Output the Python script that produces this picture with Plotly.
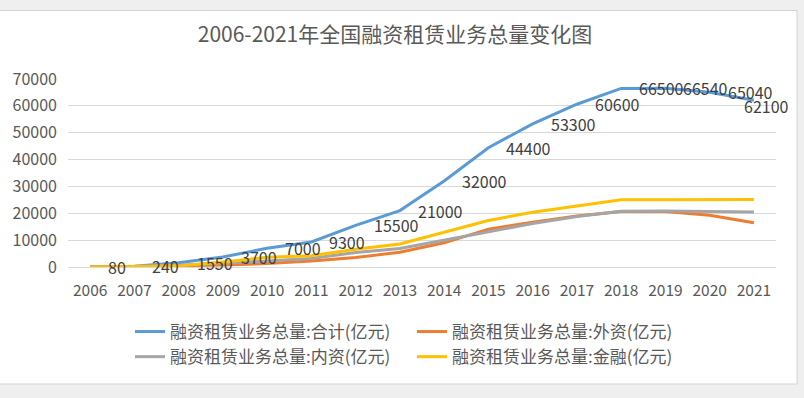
import plotly.graph_objects as go

# ---- data ----
years = list(range(2006, 2022))
total = [80, 240, 1550, 3700, 7000, 9300, 15500, 21000, 32000, 44400,
         53300, 60600, 66500, 66540, 65040, 62100]
foreign = [30, 50, 500, 700, 1300, 2200, 3500, 5500, 9000, 14100,
           16700, 19000, 20700, 20700, 19290, 16510]
domestic = [40, 100, 630, 1300, 2200, 3200, 5400, 6900, 10000, 13000,
            16200, 18800, 20800, 20810, 20710, 20500]
financial = [10, 90, 420, 1900, 3600, 4200, 6600, 8600, 13000, 17300,
             20400, 22800, 25000, 25030, 25040, 25090]
series_names = ["融资租赁业务总量:合计(亿元)", "融资租赁业务总量:外资(亿元)",
                "融资租赁业务总量:内资(亿元)", "融资租赁业务总量:金融(亿元)"]
series_values = [total, foreign, domestic, financial]
series_colors = ["#5B9BD5", "#ED7D31", "#A5A5A5", "#FFC000"]
title_text = "2006-2021年全国融资租赁业务总量变化图"
y_ticks = [0, 10000, 20000, 30000, 40000, 50000, 60000, 70000]

FONT = "Noto Sans CJK SC"
W, H = 804, 398
ML, MR, MT, MB = 68, 28, 79, 131
PW, PH = W - ML - MR, H - MT - MB

fig = go.Figure()
for name, vals, col in zip(series_names, series_values, series_colors):
    fig.add_trace(go.Scatter(x=years, y=vals, name=name, mode="lines",
                             line=dict(color=col, width=3)))

# data labels on total series
for i, (yr, v) in enumerate(zip(years, total)):
    last = i == len(years) - 1
    fig.add_annotation(x=yr, y=v, text=str(v), showarrow=False,
                       xanchor="left", yanchor="middle",
                       xshift=-12 if last else 16, yshift=-6 if last else 0,
                       font=dict(family=FONT, size=16, color="#404040"))

def px_x(p):
    return (p - ML) / PW

def px_y(p):
    return (H - MB - p) / PH

# chart area (white) on grey background
fig.add_shape(type="rect", xref="paper", yref="paper",
              x0=px_x(-2), x1=px_x(797), y0=px_y(384), y1=px_y(10.5),
              fillcolor="white", line=dict(color="#d4d4d4", width=1),
              layer="below")

fig.update_layout(
    width=W, height=H,
    margin=dict(l=ML, r=MR, t=MT, b=MB),
    paper_bgcolor="#efefef", plot_bgcolor="white",
    title=dict(text=title_text, x=395 / W, xanchor="center", xref="container",
               y=1 - 35 / H, yanchor="middle", yref="container",
               font=dict(family=FONT, size=21, color="#595959")),
    showlegend=True,
    legend=dict(orientation="h", xref="container", yref="container",
                x=130 / W, xanchor="left", y=1 - 314 / H, yanchor="top",
                entrywidth=237, entrywidthmode="pixels",
                font=dict(family=FONT, size=17, color="#595959"),
                bgcolor="rgba(0,0,0,0)", tracegroupgap=0),
    xaxis=dict(range=[2005.5, 2021.5], tickmode="linear", tick0=2006, dtick=1,
               tickformat="d", showgrid=False, zeroline=False, showline=False,
               ticks="", ticklabelstandoff=12,
               tickfont=dict(family=FONT, size=15.5, color="#595959")),
    yaxis=dict(range=[0, 70000], tickvals=y_ticks, tickformat="d",
               showgrid=True, gridcolor="#d9d9d9", gridwidth=1,
               zeroline=True, zerolinecolor="#d9d9d9", zerolinewidth=1,
               showline=False, ticks="", ticklabelstandoff=10,
               tickfont=dict(family=FONT, size=16, color="#595959")),
)

fig.write_html("out.html", config={"displayModeBar": False},
               post_script="document.body.style.margin='0';"
                           "document.body.style.background='#efefef';")
